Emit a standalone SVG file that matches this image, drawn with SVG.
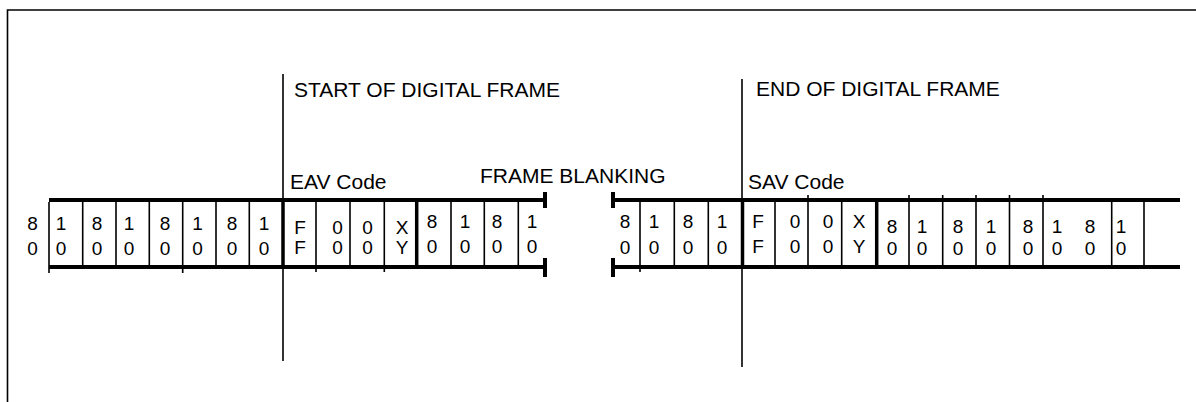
<svg xmlns="http://www.w3.org/2000/svg" width="1196" height="402" viewBox="0 0 1196 402">
<style>
.lbl{font-family:"Liberation Sans",Arial,sans-serif;font-size:21px;fill:#000}
.d{font-family:"Liberation Sans",Arial,sans-serif;font-size:19px;fill:#000;text-anchor:middle}
.thin{stroke:#000;stroke-width:1.6;fill:none}
.bar{stroke:#000;stroke-width:4;fill:none}
.thick{stroke:#000;stroke-width:3.5;fill:none}
.cap{stroke:#000;stroke-width:4;fill:none}
</style>
<rect width="1196" height="402" fill="#fff"/>
<g id="frame">
<path class="thin" d="M7.5 402V10H1196" stroke-width="2"/>
</g>
<g id="connectors">
<line class="thin" x1="283" y1="74" x2="283" y2="361" stroke-width="2"/>
<line class="thin" x1="742" y1="79" x2="742" y2="367" stroke-width="2"/>
</g>
<g id="left-stream">
<line class="bar" x1="49" y1="200" x2="545" y2="200"/>
<line class="bar" x1="49" y1="267" x2="545" y2="267"/>
<line class="cap" x1="545" y1="192" x2="545" y2="208"/>
<line class="cap" x1="545" y1="258" x2="545" y2="277"/>
<path class="thin" d="M49 202V273M82.7 202V265M116 202V265M149.3 202V265M182.7 202V273M216 202V265M249.3 202V265M316 202V272M350 202V265M384.3 202V272M451 202V265M484.3 202V265M518.3 202V265"/>
<line class="thick" x1="283" y1="200" x2="283" y2="267"/>
<line class="thick" x1="416.7" y1="200" x2="416.7" y2="267"/>
<text class="d" x="32.5" y="230">8</text><text class="d" x="32.5" y="255">0</text>
<text class="d" x="61" y="230">1</text><text class="d" x="61" y="255">0</text>
<text class="d" x="97" y="230">8</text><text class="d" x="97" y="255">0</text>
<text class="d" x="129" y="230">1</text><text class="d" x="129" y="255">0</text>
<text class="d" x="165" y="230">8</text><text class="d" x="165" y="255">0</text>
<text class="d" x="197.5" y="230">1</text><text class="d" x="197.5" y="255">0</text>
<text class="d" x="232" y="230">8</text><text class="d" x="232" y="255">0</text>
<text class="d" x="264" y="230">1</text><text class="d" x="264" y="255">0</text>
<text class="d" x="300" y="234">F</text><text class="d" x="300" y="254">F</text>
<text class="d" x="337.5" y="234">0</text><text class="d" x="337.5" y="254">0</text>
<text class="d" x="367.5" y="234">0</text><text class="d" x="367.5" y="254">0</text>
<text class="d" x="402" y="234">X</text><text class="d" x="402" y="254">Y</text>
<text class="d" x="432" y="228">8</text><text class="d" x="432" y="253">0</text>
<text class="d" x="465" y="228">1</text><text class="d" x="465" y="253">0</text>
<text class="d" x="497" y="228">8</text><text class="d" x="497" y="253">0</text>
<text class="d" x="532" y="228">1</text><text class="d" x="532" y="253">0</text>
</g>
<g id="right-stream">
<line class="bar" x1="613" y1="200" x2="1180" y2="200"/>
<line class="bar" x1="613" y1="267" x2="1180" y2="267"/>
<line class="cap" x1="613" y1="192" x2="613" y2="208"/>
<line class="cap" x1="613" y1="258" x2="613" y2="277"/>
<path class="thin" d="M640 202V272M674.3 202V265M708.3 202V265M775 202V265M808 195V265M841.7 202V265M909 195V265M942.7 195V265M976 195V265M1009.5 195V265M1043 195V265M1111.7 202V265M1144 202V265"/>
<line class="thick" x1="742.5" y1="200" x2="742.5" y2="267"/>
<line class="thick" x1="876.7" y1="200" x2="876.7" y2="267"/>
<text class="d" x="625" y="228">8</text><text class="d" x="625" y="254">0</text>
<text class="d" x="654" y="228">1</text><text class="d" x="654" y="254">0</text>
<text class="d" x="688" y="228">8</text><text class="d" x="688" y="254">0</text>
<text class="d" x="722" y="228">1</text><text class="d" x="722" y="254">0</text>
<text class="d" x="758" y="228">F</text><text class="d" x="758" y="253">F</text>
<text class="d" x="795" y="228">0</text><text class="d" x="795" y="253">0</text>
<text class="d" x="828" y="228">0</text><text class="d" x="828" y="253">0</text>
<text class="d" x="859" y="228">X</text><text class="d" x="859" y="253">Y</text>
<text class="d" x="892" y="233">8</text><text class="d" x="892" y="255">0</text>
<text class="d" x="922" y="233">1</text><text class="d" x="922" y="255">0</text>
<text class="d" x="958" y="233">8</text><text class="d" x="958" y="255">0</text>
<text class="d" x="991" y="233">1</text><text class="d" x="991" y="255">0</text>
<text class="d" x="1028" y="233">8</text><text class="d" x="1028" y="255">0</text>
<text class="d" x="1057" y="233">1</text><text class="d" x="1057" y="255">0</text>
<text class="d" x="1090" y="233">8</text><text class="d" x="1090" y="255">0</text>
<text class="d" x="1121" y="233">1</text><text class="d" x="1121" y="255">0</text>
</g>
<g id="labels">
<text class="lbl" x="294" y="97">START OF DIGITAL FRAME</text>
<text class="lbl" x="756" y="96">END OF DIGITAL FRAME</text>
<text class="lbl" x="290" y="189">EAV Code</text>
<text class="lbl" x="480" y="183" font-size="20">FRAME BLANKING</text>
<text class="lbl" x="748" y="189">SAV Code</text>
</g>
</svg>
